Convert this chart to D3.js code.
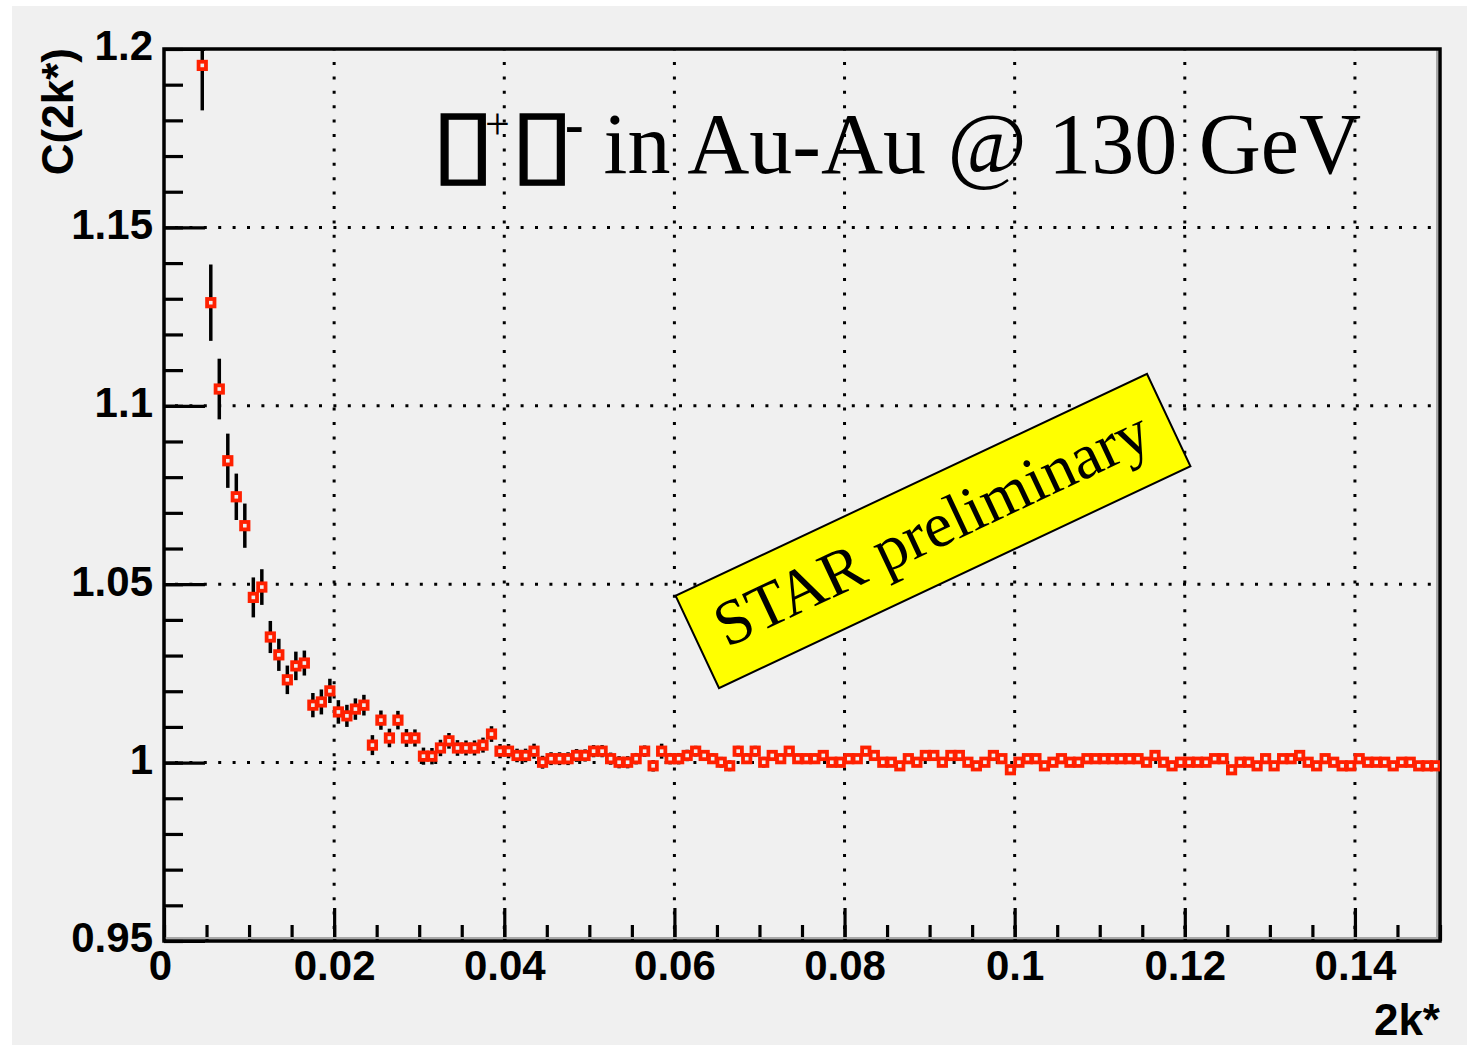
<!DOCTYPE html>
<html>
<head>
<meta charset="utf-8">
<script src="https://cdn.jsdelivr.net/npm/d3@7"></script>
<style>
  html, body { margin: 0; padding: 0; background: #ffffff; }
  svg { display: block; }
</style>
</head>
<body>
<svg id="chart" width="1467" height="1045"></svg>
<script>
// ---------------- DATA ----------------
const binCenters = [
  0.0045,0.0055,0.0065,0.0075,0.0085,0.0095,0.0105,0.0115,0.0125,0.0135,
  0.0145,0.0155,0.0165,0.0175,0.0185,0.0195,0.0205,0.0215,0.0225,0.0235,
  0.0245,0.0255,0.0265,0.0275,0.0285,0.0295,0.0305,0.0315,0.0325,0.0335,
  0.0345,0.0355,0.0365,0.0375,0.0385,0.0395,0.0405,0.0415,0.0425,0.0435,
  0.0445,0.0455,0.0465,0.0475,0.0485,0.0495,0.0505,0.0515,0.0525,0.0535,
  0.0545,0.0555,0.0565,0.0575,0.0585,0.0595,0.0605,0.0615,0.0625,0.0635,
  0.0645,0.0655,0.0665,0.0675,0.0685,0.0695,0.0705,0.0715,0.0725,0.0735,
  0.0745,0.0755,0.0765,0.0775,0.0785,0.0795,0.0805,0.0815,0.0825,0.0835,
  0.0845,0.0855,0.0865,0.0875,0.0885,0.0895,0.0905,0.0915,0.0925,0.0935,
  0.0945,0.0955,0.0965,0.0975,0.0985,0.0995,0.1005,0.1015,0.1025,0.1035,
  0.1045,0.1055,0.1065,0.1075,0.1085,0.1095,0.1105,0.1115,0.1125,0.1135,
  0.1145,0.1155,0.1165,0.1175,0.1185,0.1195,0.1205,0.1215,0.1225,0.1235,
  0.1245,0.1255,0.1265,0.1275,0.1285,0.1295,0.1305,0.1315,0.1325,0.1335,
  0.1345,0.1355,0.1365,0.1375,0.1385,0.1395,0.1405,0.1415,0.1425,0.1435,
  0.1445,0.1455,0.1465,0.1475,0.1485,0.1495
];
const corrValues = [
  1.1954,1.1289,1.1047,1.0846,1.0745,1.0664,1.0463,1.0492,1.0352,1.0302,
  1.0232,1.0271,1.0279,1.0161,1.0170,1.0201,1.0142,1.0131,1.0150,1.0161,
  1.0049,1.0119,1.0069,1.0119,1.0069,1.0069,1.0018,1.0018,1.0041,1.0061,
  1.0041,1.0041,1.0041,1.0049,1.0080,1.0032,1.0032,1.0020,1.0020,1.0032,
  1.0001,1.0011,1.0011,1.0011,1.0020,1.0020,1.0032,1.0032,1.0011,1.0001,
  1.0001,1.0011,1.0032,0.9991,1.0032,1.0011,1.0011,1.0020,1.0032,1.0020,
  1.0011,1.0001,0.9991,1.0032,1.0011,1.0032,1.0001,1.0020,1.0011,1.0032,
  1.0011,1.0011,1.0011,1.0020,1.0001,1.0001,1.0011,1.0011,1.0032,1.0020,
  1.0001,1.0001,0.9991,1.0011,1.0001,1.0020,1.0020,1.0001,1.0020,1.0020,
  1.0001,0.9991,1.0001,1.0020,1.0011,0.9980,1.0001,1.0011,1.0011,0.9991,
  1.0001,1.0011,1.0001,1.0001,1.0011,1.0011,1.0011,1.0011,1.0011,1.0011,
  1.0011,1.0001,1.0020,1.0001,0.9991,1.0001,1.0001,1.0001,1.0001,1.0011,
  1.0011,0.9980,1.0001,1.0001,0.9991,1.0011,0.9991,1.0011,1.0011,1.0020,
  1.0001,0.9991,1.0011,1.0001,0.9991,0.9991,1.0011,1.0001,1.0001,1.0001,
  0.9991,1.0001,1.0001,0.9991,0.9991,0.9991
];
const corrErrors = [
  0.0126,0.0107,0.0085,0.0076,0.0065,0.0062,0.0056,0.0050,0.0045,0.0045,
  0.0040,0.0040,0.0035,0.0034,0.0035,0.0034,0.0033,0.0031,0.0030,0.0029,
  0.0028,0.0027,0.0026,0.0026,0.0025,0.0024,0.0024,0.0023,0.0023,0.0022,
  0.0022,0.0021,0.0021,0.0021,0.0022,0.0020,0.0020,0.0019,0.0019,0.0021,
  0.0018,0.0018,0.0018,0.0018,0.0018,0.0017,0.0017,0.0017,0.0017,0.0017,
  0.0017,0.0016,0.0016,0.0016,0.0021,0.0016,0.0016,0.0016,0.0015,0.0015,
  0.0015,0.0015,0.0015,0.0015,0.0015,0.0015,0.0015,0.0014,0.0014,0.0014,
  0.0014,0.0014,0.0014,0.0014,0.0014,0.0014,0.0014,0.0013,0.0013,0.0013,
  0.0013,0.0013,0.0013,0.0013,0.0013,0.0013,0.0013,0.0013,0.0013,0.0013,
  0.0013,0.0013,0.0013,0.0013,0.0013,0.0013,0.0012,0.0012,0.0012,0.0012,
  0.0012,0.0012,0.0012,0.0012,0.0012,0.0012,0.0012,0.0012,0.0012,0.0012,
  0.0012,0.0012,0.0012,0.0012,0.0012,0.0012,0.0012,0.0012,0.0012,0.0012,
  0.0012,0.0012,0.0012,0.0012,0.0012,0.0012,0.0012,0.0012,0.0012,0.0012,
  0.0012,0.0012,0.0012,0.0012,0.0012,0.0012,0.0012,0.0012,0.0012,0.0012,
  0.0011,0.0011,0.0011,0.0011,0.0011,0.0011
];
const binHalfWidth = 0.0005;

const xMajorTicks = [0, 0.02, 0.04, 0.06, 0.08, 0.1, 0.12, 0.14];
const xTickLabels = ["0", "0.02", "0.04", "0.06", "0.08", "0.1", "0.12", "0.14"];
const yMajorTicks = [0.95, 1, 1.05, 1.1, 1.15, 1.2];
const yTickLabels = ["0.95", "1", "1.05", "1.1", "1.15", "1.2"];
const xGridValues = [0.02, 0.04, 0.06, 0.08, 0.1, 0.12, 0.14];
const yGridValues = [1, 1.05, 1.1, 1.15];

const xTitle = "2k*";
const yTitle = "C(2k*)";
const titleBox = "\u25AF";
const titleRest = " in Au-Au @ 130 GeV";
const stampText = "STAR preliminary";

// ---------------- LAYOUT ----------------
const W = 1467, H = 1045;
const L = 164, R = 1440, T = 49, B = 941;
const svg = d3.select("#chart");
const x = d3.scaleLinear().domain([0, 0.15]).range([L, R]);
const y = d3.scaleLinear().domain([0.95, 1.2]).range([B, T]);

const tickFont = "'Liberation Sans', Arial, Helvetica, sans-serif";
const serif = "'Liberation Serif', 'Times New Roman', Times, serif";
const padColor = "#f0f0f0";

// pad background
svg.append("rect").attr("x", 0).attr("y", 0).attr("width", W).attr("height", H).attr("fill", "#ffffff");
svg.append("rect").attr("x", 12).attr("y", 6).attr("width", W - 12).attr("height", H - 6).attr("fill", padColor);

// clip
svg.append("defs").append("clipPath").attr("id", "plotclip")
  .append("rect").attr("x", L).attr("y", T).attr("width", R - L).attr("height", B - T);

// grid (dotted)
const grid = svg.append("g");
grid.selectAll("line.gx").data(xGridValues).join("line")
  .attr("x1", d => x(d)).attr("x2", d => x(d)).attr("y1", T).attr("y2", B)
  .attr("stroke", "#000").attr("stroke-width", 3).attr("stroke-dasharray", "3,11.4")
  .attr("stroke-dashoffset", -13);
grid.selectAll("line.gy").data(yGridValues).join("line")
  .attr("x1", L).attr("x2", R).attr("y1", d => y(d)).attr("y2", d => y(d))
  .attr("stroke", "#000").attr("stroke-width", 3).attr("stroke-dasharray", "3,11.4")
  .attr("stroke-dashoffset", -11);

// axes: minor and major ticks, drawn inward
const yMinor = d3.range(95, 121).map(v => v / 100);
const xMinor = d3.range(0, 31).map(v => v * 0.005);

const yMinorAxis = d3.axisLeft(y).tickValues(yMinor).tickSize(-19).tickFormat("");
const yMajorAxis = d3.axisLeft(y).tickValues(yMajorTicks).tickSize(-41).tickPadding(11)
  .tickFormat((d, i) => yTickLabels[i]);
const xMinorAxis = d3.axisBottom(x).tickValues(xMinor).tickSize(-16).tickFormat("");
const xMajorAxis = d3.axisBottom(x).tickValues(xMajorTicks).tickSize(-33).tickPadding(9)
  .tickFormat((d, i) => xTickLabels[i]);

function styleAxis(g) {
  g.select(".domain").remove();
  g.selectAll(".tick line").attr("stroke", "#000").attr("stroke-width", 3.2);
  g.selectAll(".tick text").attr("fill", "#000")
    .style("font-family", tickFont).style("font-weight", "bold").style("font-size", "42px");
}
svg.append("g").attr("transform", `translate(${L},0)`).call(yMinorAxis).call(styleAxis);
svg.append("g").attr("transform", `translate(${L},0)`).call(yMajorAxis).call(styleAxis)
  .selectAll(".tick text").attr("dy", "0.26em");
svg.append("g").attr("transform", `translate(0,${B})`).call(xMinorAxis).call(styleAxis);
const xg = svg.append("g").attr("transform", `translate(0,${B})`).call(xMajorAxis).call(styleAxis);
xg.selectAll(".tick text").attr("x", (d, i) => (i === 0 ? -4 : 0));

// frame
svg.append("line").attr("x1", R - 3).attr("x2", R - 3).attr("y1", T).attr("y2", B)
  .attr("stroke", "#a8a8a8").attr("stroke-width", 2);
svg.append("line").attr("x1", L).attr("x2", R).attr("y1", B - 3).attr("y2", B - 3)
  .attr("stroke", "#a8a8a8").attr("stroke-width", 2);
svg.append("rect").attr("x", L).attr("y", T).attr("width", R - L).attr("height", B - T)
  .attr("fill", "none").attr("stroke", "#000").attr("stroke-width", 3.5);

// data
const data = binCenters.map((c, i) => ({ x: c, v: corrValues[i], e: corrErrors[i] }));
const plot = svg.append("g").attr("clip-path", "url(#plotclip)");
plot.selectAll("line.ey").data(data).join("line")
  .attr("x1", d => x(d.x)).attr("x2", d => x(d.x))
  .attr("y1", d => y(d.v + d.e)).attr("y2", d => y(d.v - d.e))
  .attr("stroke", "#000").attr("stroke-width", 3.5);
plot.selectAll("line.ex").data(data).join("line")
  .attr("x1", d => x(d.x - binHalfWidth)).attr("x2", d => x(d.x + binHalfWidth))
  .attr("y1", d => y(d.v)).attr("y2", d => y(d.v))
  .attr("stroke", "#000").attr("stroke-width", 3);
const ms = 7.4;
plot.selectAll("rect.m").data(data).join("rect")
  .attr("x", d => x(d.x) - ms / 2).attr("y", d => y(d.v) - ms / 2)
  .attr("width", ms).attr("height", ms)
  .attr("fill", padColor).attr("stroke", "#ff2000").attr("stroke-width", 3.8);

// axis titles
svg.append("text").attr("transform", "translate(73,48) rotate(-90)")
  .attr("text-anchor", "end").attr("fill", "#000")
  .style("font-family", tickFont).style("font-weight", "bold").style("font-size", "44px")
  .text(yTitle);
svg.append("text").attr("x", R).attr("y", 1035).attr("text-anchor", "end").attr("fill", "#000")
  .style("font-family", tickFont).style("font-weight", "bold").style("font-size", "44px")
  .text(xTitle);

// title: one text element, pieces placed with tspans
const boxFont = "'DejaVu Sans'";
const ctx = document.createElement("canvas").getContext("2d");
ctx.font = "100px " + boxFont;
const bm = ctx.measureText(titleBox);
const inkL = -bm.actualBoundingBoxLeft, inkR = bm.actualBoundingBoxRight;
const inkT = bm.actualBoundingBoxAscent, inkB = bm.actualBoundingBoxDescent;
const adv100 = bm.width;
const boxTop = 113, boxBottom = 186, boxW = 44;
const boxSize = 100 * (boxBottom - boxTop) / Math.max(1, inkT + inkB);
const k = boxSize / 100;
const natInkW = Math.max(1, (inkR - inkL) * k);
const stretch = boxW / natInkW;
const boxLen = adv100 * k * stretch;
const boxBase = boxTop + inkT * k;
const boxX = l => l - inkL * k * stretch;

const title = svg.append("text").attr("fill", "#000").style("white-space", "pre");
title.append("tspan").attr("x", boxX(441)).attr("y", boxBase)
  .attr("textLength", boxLen).attr("lengthAdjust", "spacingAndGlyphs")
  .style("font-family", boxFont).style("font-size", boxSize + "px")
  .attr("stroke", "#000").attr("stroke-width", 1.2).text(titleBox);
title.append("tspan").attr("x", 485).attr("y", 139)
  .style("font-family", serif).style("font-size", "44px").text("+");
title.append("tspan").attr("x", boxX(520)).attr("y", boxBase)
  .attr("textLength", boxLen).attr("lengthAdjust", "spacingAndGlyphs")
  .style("font-family", boxFont).style("font-size", boxSize + "px")
  .attr("stroke", "#000").attr("stroke-width", 1.2).text(titleBox);
title.append("tspan").attr("x", 565).attr("y", 143)
  .style("font-family", serif).style("font-size", "56px").style("font-weight", "bold").text("-");
title.append("tspan").attr("x", 582).attr("y", 173)
  .style("font-family", serif).style("font-size", "86px").text(titleRest);

// STAR preliminary stamp
const stamp = svg.append("g").attr("transform", "translate(933,531) rotate(-25.2)");
stamp.append("rect").attr("x", -260.5).attr("y", -51).attr("width", 521).attr("height", 102)
  .attr("fill", "#ffff00").attr("stroke", "#000").attr("stroke-width", 2);
stamp.append("text").attr("x", 0).attr("y", 18).attr("text-anchor", "middle").attr("fill", "#000")
  .style("font-family", serif).style("font-size", "64px").text(stampText);
</script>
</body>
</html>
